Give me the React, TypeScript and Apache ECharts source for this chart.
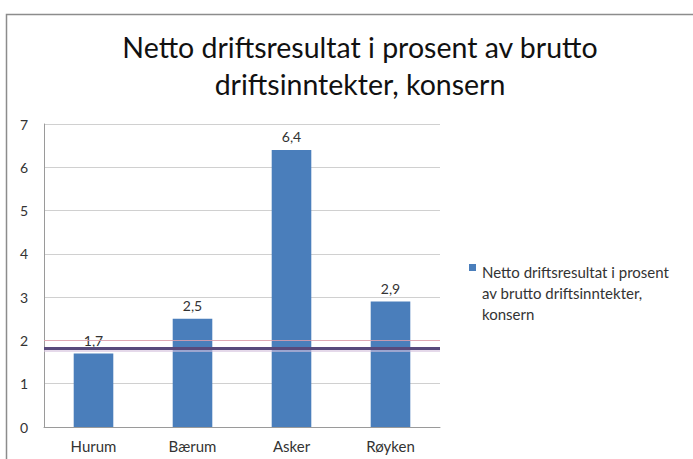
import React, { useEffect, useRef } from "react";
import * as echarts from "echarts";

const categories = ["Hurum", "Bærum", "Asker", "Røyken"];
const values = [1.7, 2.5, 6.4, 2.9];
const referenceValue = 1.82;
const seriesName = "Netto driftsresultat i prosent av brutto driftsinntekter, konsern";
const titleText = "Netto driftsresultat i prosent av brutto\ndriftsinntekter, konsern";

export default function App() {
  const ref = useRef<HTMLDivElement>(null);
  useEffect(() => {
    if (!ref.current) return;
    const chart = echarts.init(ref.current, undefined, { renderer: "svg" });
    const font = "Lato, 'Open Sans', sans-serif";
    chart.setOption({
      animation: false,
      backgroundColor: "#ffffff",
      textStyle: { fontFamily: font },
      graphic: [
        {
          type: "rect",
          shape: { x: 6.5, y: 14.5, width: 700, height: 460 },
          style: { fill: "none", stroke: "#8c8c8c", lineWidth: 1.5 },
          silent: true,
        },
        {
          type: "rect",
          shape: { x: 469, y: 264, width: 7, height: 7 },
          style: { fill: "#4a7ebb" },
          silent: true,
        },
      ],
      title: {
        text: titleText,
        left: 355,
        textAlign: "center",
        top: 23,
        textStyle: { fontFamily: font, fontSize: 28.5, fontWeight: "normal", color: "#111", lineHeight: 37 },
      },
      legend: {
        orient: "vertical",
        left: 465,
        top: 256,
        itemWidth: 7,
        itemHeight: 7,
        icon: "none",
        data: [seriesName],
        formatter: () => "Netto driftsresultat i prosent\nav brutto driftsinntekter,\nkonsern",
        textStyle: { fontFamily: font, fontSize: 15, color: "#333", lineHeight: 21 },
      },
      grid: { left: 44, right: 253, top: 124, bottom: 32 },
      xAxis: {
        type: "category",
        data: categories,
        axisLine: { lineStyle: { color: "#9a9a9a" } },
        axisTick: { show: false },
        axisLabel: { color: "#333", fontSize: 15, margin: 11, fontFamily: font },
      },
      yAxis: {
        type: "value",
        min: 0,
        max: 7,
        interval: 1,
        axisLine: { show: true, lineStyle: { color: "#9a9a9a" } },
        axisTick: { show: false },
        splitLine: { lineStyle: { color: "#d0d0d0" } },
        axisLabel: { color: "#333", fontSize: 14, margin: 16, fontFamily: font },
      },
      series: [
        {
          name: seriesName,
          type: "bar",
          data: values,
          barWidth: "40%",
          itemStyle: { color: "#4a7ebb" },
          label: {
            show: true,
            position: "top",
            distance: 6,
            color: "#333",
            fontSize: 14,
            fontFamily: font,
            formatter: (p: any) => String(p.value).replace(".", ","),
          },
          markLine: {
            symbol: ["none", "none"],
            silent: true,
            label: { show: false },
            data: [
              {
                yAxis: 2,
                lineStyle: { color: "#e4a0ae", width: 1, type: "solid", opacity: 0.8 },
              },
              {
                yAxis: referenceValue - 0.065,
                lineStyle: { color: "#d4c0dc", width: 2, type: "solid", opacity: 0.6 },
              },
              {
                yAxis: referenceValue,
                lineStyle: { color: "#584a7c", width: 3, type: "solid", opacity: 1 },
              },
            ],
          },
        },
      ],
    });
    return () => chart.dispose();
  }, []);
  return (
    <div
      ref={ref}
      style={{ position: "fixed", left: 0, top: 0, width: 693, height: 459 }}
    />
  );
}
